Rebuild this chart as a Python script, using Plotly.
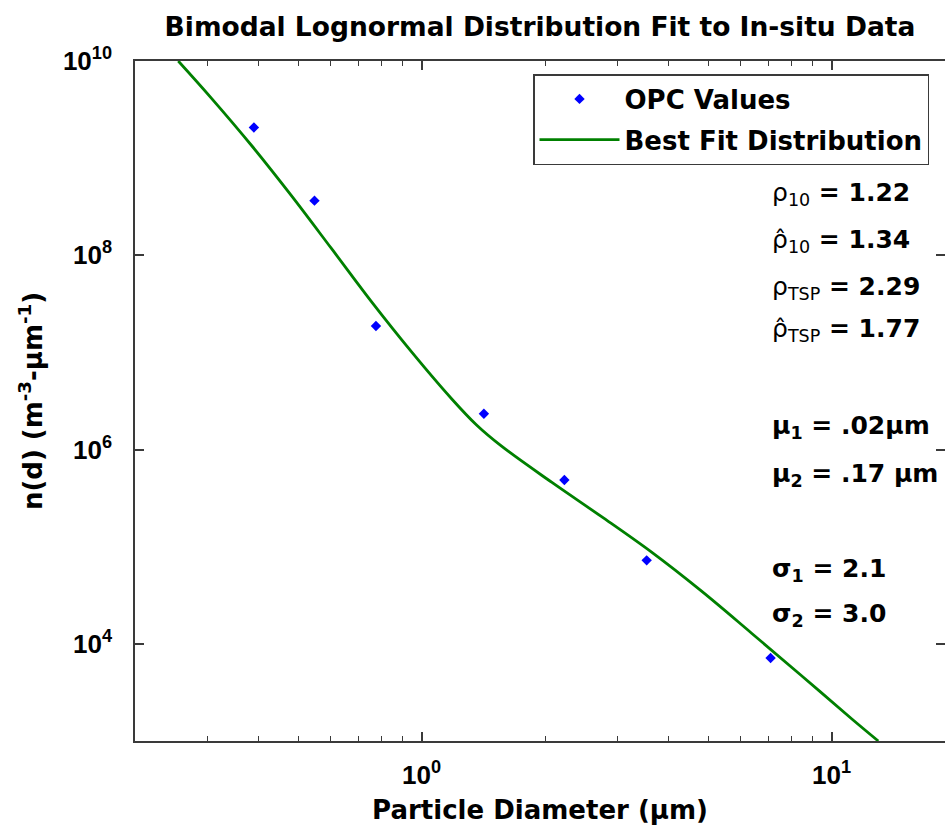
import numpy as np
import plotly.graph_objects as go

# ---- data ----
opc_diam = [0.390, 0.548, 0.774, 1.419, 2.23, 3.54, 7.10]
opc_n = [2.07e9, 3.65e8, 1.87e7, 2.34e6, 4.86e5, 7.24e4, 7.15e3]

fit_diam = [0.2550, 0.3074, 0.3849, 0.4819, 0.6033, 0.7554, 0.9454, 1.1834, 1.3617,
            1.5670, 2.0753, 2.7480, 3.6390, 4.8185, 6.3808, 8.4496, 11.189, 13.000]
fit_n = [1.0e10, 4.130e9, 1.3495e9, 4.087e8, 1.1689e8, 3.313e7, 1.0126e7, 3.339e6, 1.7901e6,
         1.0832e6, 4.614e5, 2.0370e5, 8.782e4, 3.484e4, 1.2875e4, 4.700e3, 1.6969e3, 1.0e3]

x_tickvals = [1, 10]
x_ticktext = ["10<sup>0</sup>", "10<sup>1</sup>"]
x_minor = [0.3, 0.4, 0.5, 0.6, 0.7, 0.8, 0.9, 2, 3, 4, 5, 6, 7, 8, 9]
y_tickvals = [1e4, 1e6, 1e8, 1e10]
y_ticktext = ["10<sup>4</sup>", "10<sup>6</sup>", "10<sup>8</sup>", "10<sup>10</sup>"]

stats_lines = [
    "ρ<sub>10</sub><b> = 1.22</b>",
    "ρ̂<sub>10</sub><b> = 1.34</b>",
    "ρ<sub>TSP</sub><b> = 2.29</b>",
    "ρ̂<sub>TSP</sub><b> = 1.77</b>",
    "<b>μ<sub>1</sub> = .02μm</b>",
    "<b>μ<sub>2</sub> = .17 μm</b>",
    "<b>σ<sub>1</sub> = 2.1</b>",
    "<b>σ<sub>2</sub> = 3.0</b>",
]
stats_ypix = [194, 241, 288, 330, 427, 475, 570, 615]

# ---- layout geometry ----
W, H = 945, 833
ML, MR, MT, MB = 135, 0, 61, 92
PW, PH = W - ML - MR, H - MT - MB

AX = "#3a3a3a"
TXT = "DejaVu Sans"

fig = go.Figure()
fig.add_trace(go.Scatter(
    x=opc_diam, y=opc_n, mode="markers", name="OPC Values", legendgroup="a",
    marker=dict(symbol="diamond", size=8, color="#0000FF"),
))
fig.add_trace(go.Scatter(
    x=fit_diam, y=fit_n, mode="lines", name="Best Fit Distribution", legendgroup="b",
    line=dict(color="#008000", width=2.8, shape="spline", smoothing=1.0),
))

xmin = np.log10(0.2)
xmax = xmin + PW / 410.0

fig.update_xaxes(
    type="log", range=[xmin, xmax],
    tickvals=x_tickvals, ticktext=x_ticktext,
    ticks="inside", ticklen=9, tickwidth=1.5, tickcolor=AX,
    minor=dict(tickvals=x_minor, ticks="inside", ticklen=5, tickwidth=1.2, tickcolor=AX, showgrid=False),
    showline=True, linecolor=AX, linewidth=1.5, mirror="ticks",
    showgrid=False, zeroline=False,
    tickfont=dict(family="Liberation Sans", size=26, color="black", weight="bold"),
    ticklabelstandoff=10,
    title=dict(text="Particle Diameter (μm)", standoff=12,
               font=dict(family=TXT, size=26, color="black", weight="bold")),
)
fig.update_yaxes(
    type="log", range=[3, 10],
    tickvals=y_tickvals, ticktext=y_ticktext,
    ticks="inside", ticklen=9, tickwidth=1.5, tickcolor=AX,
    showline=True, linecolor=AX, linewidth=1.5, mirror="ticks",
    showgrid=False, zeroline=False,
    tickfont=dict(family="Liberation Sans", size=26, color="black", weight="bold"),
    ticklabelstandoff=16,
    title=dict(text="n(d) (m<sup>-3</sup>-μm<sup>-1</sup>)", standoff=13,
               font=dict(family=TXT, size=26, color="black", weight="bold")),
)

annotations = []
for txt, yp in zip(stats_lines, stats_ypix):
    annotations.append(dict(
        text=txt, xref="paper", yref="paper",
        x=(770 - ML) / PW, y=(MT + PH - yp) / PH,
        xanchor="left", yanchor="middle", showarrow=False,
        font=dict(family=TXT, size=25, color="black"),
    ))

fig.update_layout(
    width=W, height=H,
    margin=dict(l=ML, r=MR, t=MT, b=MB, autoexpand=False),
    paper_bgcolor="white", plot_bgcolor="white",
    title=dict(text="Bimodal Lognormal Distribution Fit to In-situ Data",
               x=(ML + PW / 2) / W, xanchor="center",
               y=1 - 27 / H, yanchor="middle", yref="container",
               font=dict(family=TXT, size=26.5, color="black", weight="bold")),
    legend=dict(x=(533 - ML) / PW, y=(MT + PH - 74) / PH, xanchor="left", yanchor="top",
                bordercolor=AX, borderwidth=1.5, bgcolor="white",
                font=dict(family=TXT, size=26, color="black", weight="bold"),
                itemwidth=80, tracegroupgap=4),
    annotations=annotations,
    showlegend=True,
)

fig.write_html("out.html")
